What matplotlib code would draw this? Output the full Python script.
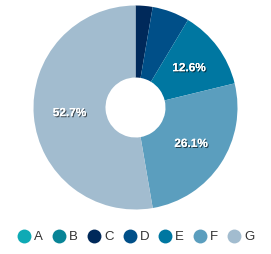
import matplotlib
matplotlib.use("Agg")
import matplotlib.pyplot as plt
import matplotlib.patheffects as pe
from matplotlib.lines import Line2D

categories = ["A", "B", "C", "D", "E", "F", "G"]
values = [0.0, 0.0, 2.7, 5.9, 12.6, 26.1, 52.7]
colors = ["#0eaab5", "#088496", "#00295a", "#004f88", "#0077a1", "#5b9ebe", "#a2bccf"]

W, H = 271, 254
fig = plt.figure(figsize=(W / 100, H / 100), dpi=100)
ax = fig.add_axes([0, 0, 1, 1])

cx, cy, R = 135.5, H - 107.5, 102
inner = 30

def fmt(p):
    return f"{p:.1f}%" if p >= 10 else ""

wedges, texts, autotexts = ax.pie(
    values, colors=colors, startangle=90, counterclock=False,
    center=(cx, cy), radius=R, autopct=fmt, pctdistance=0.65,
    wedgeprops=dict(width=R - inner, linewidth=0),
    textprops=dict(color="white", fontsize=8.5, fontweight="bold", family="Liberation Sans"),
    frame=True,
)
ax.set_xlim(0, W)
ax.set_ylim(0, H)
ax.set_aspect("equal")
ax.axis("off")
for t in autotexts:
    t.set_path_effects([pe.withSimplePatchShadow(offset=(0.8, -0.8), shadow_rgbFace="black", alpha=0.6), pe.Normal()])

handles = [Line2D([0], [0], marker="o", linestyle="", markersize=10, markerfacecolor=c, markeredgewidth=0) for c in colors]
fig.legend(handles, categories, loc="center", bbox_to_anchor=(0.5, 1 - 237 / H), ncol=7,
           frameon=False, handletextpad=0.15, columnspacing=0.62, handlelength=1.2,
           prop=dict(family="Liberation Sans", size=9.5), labelcolor="#333333")

fig.savefig("out.png", dpi=100)
